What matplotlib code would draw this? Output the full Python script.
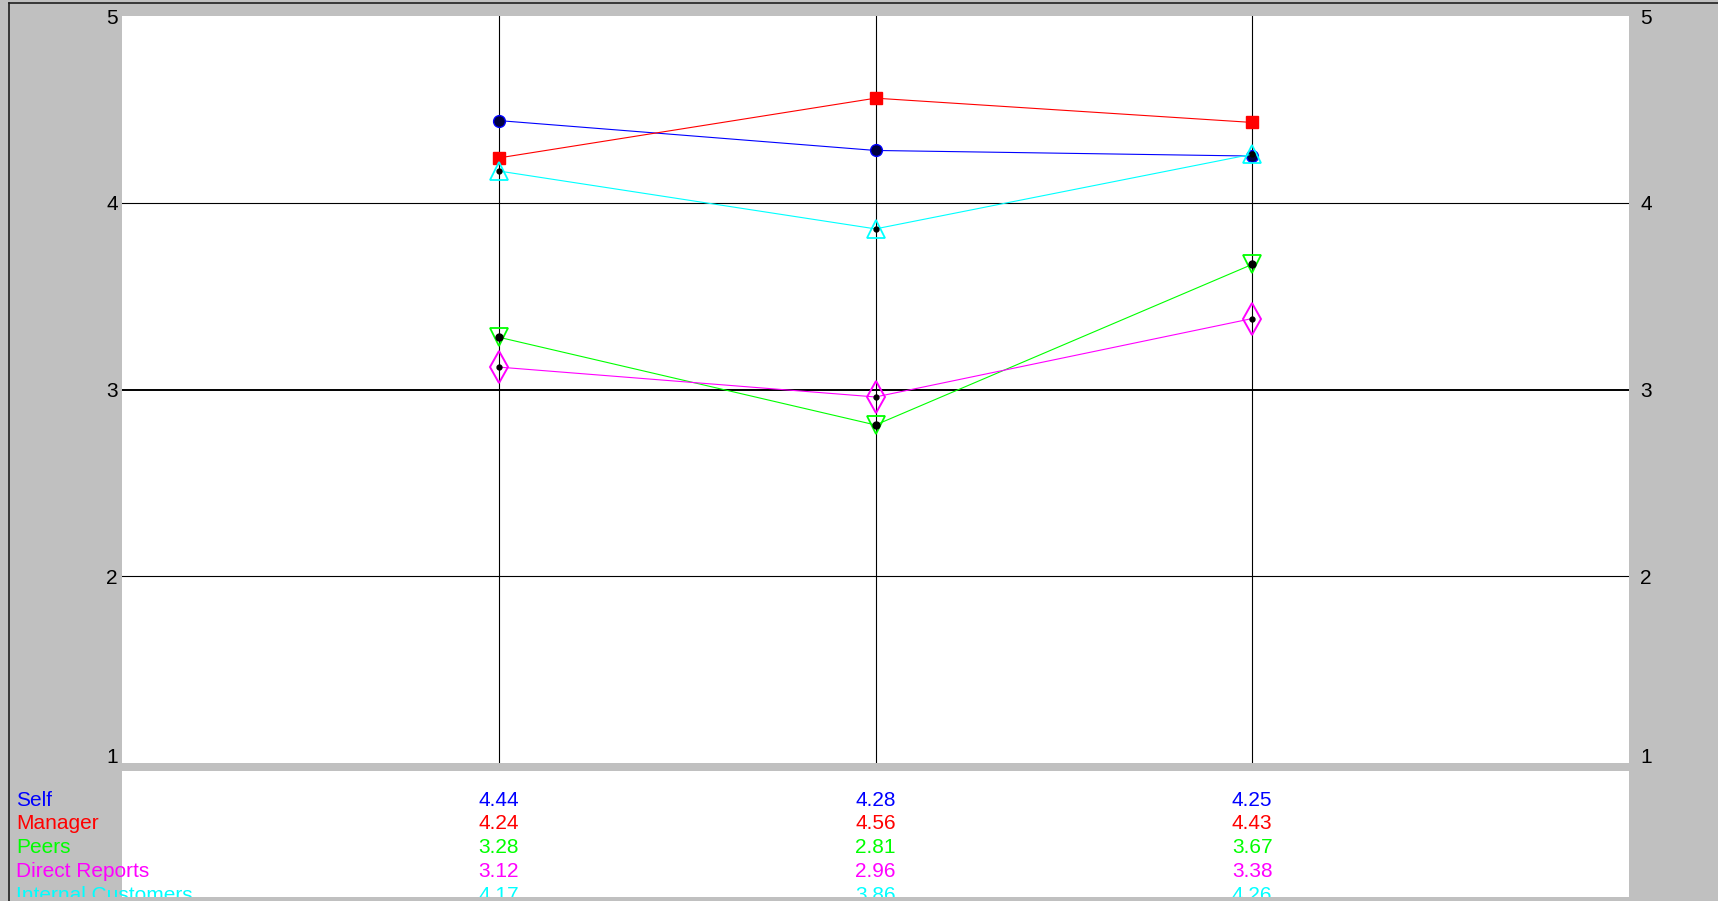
import matplotlib.pyplot as plt
from matplotlib.lines import Line2D
from matplotlib.patches import Rectangle
from matplotlib.transforms import blended_transform_factory

plt.rcParams['font.family'] = ['Liberation Sans', 'DejaVu Sans']

W, H = 1718, 901
GRAY = '#c0c0c0'
FS = 15

# three competencies, one score per rater group
positions = [1, 2, 3]
groups = ['Self', 'Manager', 'Peers', 'Direct Reports', 'Internal Customers']
self_scores = [4.44, 4.28, 4.25]
manager_scores = [4.24, 4.56, 4.43]
peer_scores = [3.28, 2.81, 3.67]
direct_report_scores = [3.12, 2.96, 3.38]
internal_customer_scores = [4.17, 3.86, 4.26]
scale_ticks = [1, 2, 3, 4, 5]
grid_levels = [2, 3, 4]

series = [
    (self_scores, 'blue', dict(marker='o', ms=8.5, mfc='#000040', mec='blue', mew=1.0), None),
    (manager_scores, 'red', dict(marker='s', ms=8.5, mfc='red', mec='red', mew=1.0), None),
    (peer_scores, '#00ff00', dict(marker='v', ms=13, mfc='none', mec='#00ff00', mew=1.3), 5),
    (direct_report_scores, 'magenta', dict(marker='d', ms=16, mfc='none', mec='magenta', mew=1.4), 3.5),
    (internal_customer_scores, 'cyan', dict(marker='^', ms=13, mfc='none', mec='cyan', mew=1.3), 3.5),
]


def fx(px):
    return px / W


def fy(px):
    return 1 - px / H


fig = plt.figure(figsize=(W / 100, H / 100), dpi=100, facecolor=GRAY)

# chart area
ax = fig.add_axes([fx(122), fy(763), (1629 - 122) / W, (763 - 16) / H])
ax.set_facecolor('white')
ax.set_xlim(0, 4)
ax.set_ylim(1, 5)
for s in ax.spines.values():
    s.set_visible(False)
ax.set_xticks(positions)
ax.tick_params(axis='x', length=0, labelbottom=False)
ax.set_yticks(scale_ticks)
ax.tick_params(axis='y', length=0, labelsize=FS, pad=3)
ax.get_yticklabels()[0].set_va('baseline')

for x in positions:
    ax.axvline(x, color='black', lw=0.8, zorder=1)
for y in grid_levels:
    ax.axhline(y, color='black', lw=1.4 if y == 3 else 0.8, zorder=1)

for values, color, mk, dot in series:
    ax.plot(positions, values, color=color, lw=0.8, zorder=2, **mk)
    if dot:
        ax.plot(positions, values, 'o', ms=dot, color='black', zorder=3)

# duplicate scale on the right
ax2 = ax.twinx()
ax2.set_ylim(1, 5)
ax2.set_yticks(scale_ticks)
ax2.tick_params(axis='y', length=0, labelsize=FS, pad=8)
ax2.get_yticklabels()[0].set_va('baseline')
for s in ax2.spines.values():
    s.set_visible(False)

# score table under the chart
tax = fig.add_axes([fx(122), fy(897), (1629 - 122) / W, (897 - 771) / H])
tax.set_facecolor('white')
tax.set_xlim(0, 4)
tax.set_ylim(3.84, -1.46)
tax.set_xticks([])
tax.set_yticks([])
for s in tax.spines.values():
    s.set_visible(False)

label_tr = blended_transform_factory(fig.transFigure, tax.transData)
for row, (name, (values, color, _, _)) in enumerate(zip(groups, series)):
    tax.text(fx(16), row, name, transform=label_tr, color=color, fontsize=FS,
             ha='left', va='baseline', clip_on=False)
    for x, v in zip(positions, values):
        tax.text(x, row, f'{v:.2f}', color=color, fontsize=FS,
                 ha='center', va='baseline', clip_on=False)

# frame bits around the page
fig.add_artist(Rectangle((0, 0), 1, 4 / H, transform=fig.transFigure,
                         facecolor=GRAY, edgecolor='none', zorder=10))
fig.add_artist(Line2D([fx(9), 1], [fy(3), fy(3)], transform=fig.transFigure,
                      color='#202020', lw=1.2, zorder=11))
fig.add_artist(Line2D([fx(9), fx(9)], [0, fy(3)], transform=fig.transFigure,
                      color='#202020', lw=1.2, zorder=11))

fig.savefig('out.png', dpi=100, facecolor=GRAY)
